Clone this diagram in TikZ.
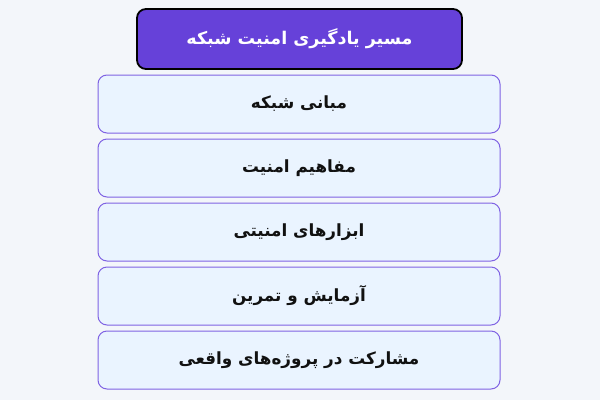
\documentclass[tikz,border=0pt]{standalone}
\usepackage{fontspec}
\newfontfamily\arabicfont[Script=Arabic]{DejaVu Sans}
\TeXXeTstate=1
\definecolor{bgc}{HTML}{F3F6FA}
\definecolor{titlefill}{HTML}{6641D9}
\definecolor{boxfill}{HTML}{EAF4FF}
\definecolor{boxline}{HTML}{7F63E3}
\definecolor{txt}{HTML}{111111}
\tikzset{
  titlebox/.style={draw=black, line width=1.8pt, fill=titlefill, rounded corners=9pt, minimum width=325pt, minimum height=60pt, text=white, font=\arabicfont\bfseries\fontsize{17.5}{20}\selectfont},
  stepbox/.style={draw=boxline, line width=1pt, fill=boxfill, rounded corners=9pt, minimum width=402pt, minimum height=58pt, text=txt, font=\arabicfont\bfseries\fontsize{16.8}{20}\selectfont}
}
\begin{document}
\begin{tikzpicture}[x=1pt,y=-1pt]
\fill[bgc] (0,0) rectangle (600,400);
\useasboundingbox (0,0) rectangle (600,400);
\node[titlebox] (t) at (299.5,39) {\beginR مسیر یادگیری امنیت شبکه\endR};
\node[stepbox] (b1) at (299,104) {\beginR مبانی شبکه\endR};
\node[stepbox] (b2) at (299,168) {\beginR مفاهیم امنیت\endR};
\node[stepbox] (b3) at (299,232) {\beginR ابزارهای امنیتی\endR};
\node[stepbox] (b4) at (299,296) {\beginR آزمایش و تمرین\endR};
\node[stepbox] (b5) at (299,360) {\beginR مشارکت در پروژه‌های واقعی\endR};
\end{tikzpicture}
\end{document}
